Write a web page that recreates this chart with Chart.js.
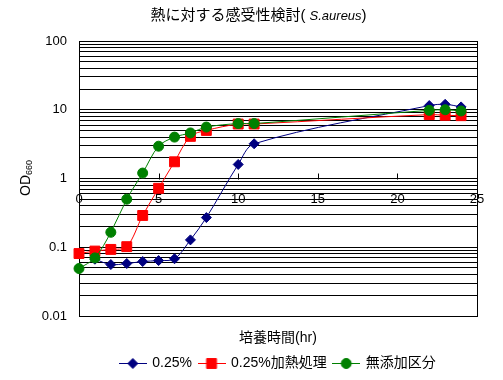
<!DOCTYPE html>
<html><head><meta charset="utf-8">
<script src="https://cdn.jsdelivr.net/npm/chart.js@4"></script>
<style>html,body{margin:0;padding:0;background:#fff}</style>
</head><body><canvas id="c" width="503" height="380"></canvas>
<script>
// ---- data ----
const hours = [0,1,2,3,4,5,6,7,8,10,11,22,23,24];
const od025 = [null,0.067,0.056,0.058,0.062,0.064,0.068,0.128,0.27,1.6,3.2,11.5,12,11];
const od025Heat = [0.081,0.088,0.093,0.102,0.29,0.72,1.75,4.1,5.0,6.2,6.2,8.5,8.3,8.2];
const odControl = [0.049,0.07,0.165,0.5,1.2,2.95,4.0,4.6,5.6,6.3,6.3,9.8,10,9.6];
const seriesNames = ['0.25%','0.25%加熱処理','無添加区分'];
const yDecades = [0.01,0.1,1,10,100];
const yDecadeLabels = ['0.01','0.1','1','10','100'];
const xTicks = [0,5,10,15,20,25];
const titleMain = '熱に対する感受性検討( ';
const titleItalic = 'S.aureus';
const titleEnd = ')';
const xTitle = '培養時間(hr)';
const yTitleMain = 'OD';
const yTitleSub = '660';

// ---- helpers ----
const FAM = "'Liberation Sans', 'Noto Sans CJK JP', sans-serif";
const colors = ['#000080','#FF0000','#008000'];
const styles = ['rectRot','rect','circle'];
const radii = [5,7,5];

const yGrid = [];
for (let i = 0; i < yDecades.length - 1; i++) for (let k = 1; k <= 9; k++) yGrid.push(yDecades[i] * k);
yGrid.push(yDecades[yDecades.length - 1]);

function pts(vals) { return hours.map((h, i) => ({x: h, y: vals[i]})); }

function icon(i) {
  const c = document.createElement('canvas'); c.width = 28; c.height = 14;
  const g = c.getContext('2d');
  g.strokeStyle = colors[i]; g.fillStyle = colors[i]; g.lineWidth = 1;
  g.beginPath(); g.moveTo(0, 7.5); g.lineTo(28, 7.5); g.stroke();
  Chart.helpers.drawPoint(g, {pointStyle: styles[i], radius: radii[i], rotation: 0, borderWidth: 1}, 14, 7.5);
  return c;
}

const decor = {
  id: 'decor',
  beforeDatasetsDraw(chart) {
    const {ctx, chartArea: a, scales} = chart;
    ctx.save();
    ctx.strokeStyle = '#000'; ctx.lineWidth = 1;
    ctx.strokeRect(Math.round(a.left) + 0.5, Math.round(a.top) + 0.5, Math.round(a.right - a.left), Math.round(a.bottom - a.top));
    const yAx = Math.round(scales.y.getPixelForValue(1)) + 0.5;
    ctx.beginPath();
    for (const t of scales.x.ticks) {
      const px = Math.round(scales.x.getPixelForValue(t.value)) + 0.5;
      ctx.moveTo(px, yAx); ctx.lineTo(px, yAx - 6);
    }
    ctx.stroke();
    ctx.restore();
  },
  afterDraw(chart) {
    const ctx = chart.ctx;
    ctx.save();
    ctx.fillStyle = '#000';
    ctx.textBaseline = 'middle';
    const f1 = "15px " + FAM, f2 = "italic 13px 'Liberation Sans', sans-serif";
    ctx.font = f1; const w1 = ctx.measureText(titleMain).width; const w3 = ctx.measureText(titleEnd).width;
    ctx.font = f2; const w2 = ctx.measureText(titleItalic).width;
    let x = 258.5 - (w1 + w2 + w3) / 2; const y = 16;
    ctx.textAlign = 'left';
    ctx.font = f1; ctx.fillText(titleMain, x, y); x += w1;
    ctx.font = f2; ctx.fillText(titleItalic, x, y); x += w2;
    ctx.font = f1; ctx.fillText(titleEnd, x, y);
    // y title
    ctx.translate(25, 178); ctx.rotate(-Math.PI / 2);
    ctx.textBaseline = 'alphabetic';
    const fa = "14px 'Liberation Sans', sans-serif", fb = "9px 'Liberation Sans', sans-serif";
    ctx.font = fa; const wa = ctx.measureText(yTitleMain).width;
    ctx.font = fb; const wb = ctx.measureText(yTitleSub).width;
    let sx = -(wa + wb) / 2;
    ctx.font = fa; ctx.fillText(yTitleMain, sx, 5); sx += wa;
    ctx.font = fb; ctx.fillText(yTitleSub, sx, 7);
    ctx.restore();
  }
};

Chart.defaults.color = '#000';
Chart.defaults.font.family = FAM;

const datasets = [od025, od025Heat, odControl].map((vals, i) => ({
  label: seriesNames[i],
  data: pts(vals),
  borderColor: colors[i], backgroundColor: colors[i],
  borderWidth: 1,
  pointStyle: styles[i], pointRadius: radii[i], pointHoverRadius: radii[i],
  pointBorderWidth: 1, pointBorderColor: colors[i], pointBackgroundColor: colors[i],
  tension: 0.33, clip: false, order: 3 - i
}));

const icons = [0,1,2].map(icon);

new Chart(document.getElementById('c'), {
  type: 'line',
  data: {datasets},
  options: {
    responsive: false, animation: false, events: [],
    layout: {padding: {top: 41, right: 26, bottom: 0, left: 0}},
    scales: {
      x: {
        type: 'linear', min: 0, max: 25, position: {y: 1},
        afterBuildTicks: s => { s.ticks = xTicks.map(v => ({value: v})); },
        ticks: {padding: 13, font: {size: 13, family: FAM}, color: '#000', autoSkip: false, maxRotation: 0},
        grid: {drawOnChartArea: false, drawTicks: false},
        border: {color: '#000', width: 1}
      },
      x2: {
        type: 'linear', axis: 'x', position: 'bottom', min: 0, max: 25,
        ticks: {display: false}, grid: {display: false, drawTicks: false}, border: {display: false},
        title: {display: true, text: xTitle, color: '#000', font: {size: 14, family: FAM}, padding: {top: 13.6, bottom: 2.6}}
      },
      y: {
        type: 'logarithmic', min: 0.01, max: 100, position: 'left',
        afterBuildTicks: s => { s.ticks = yGrid.map(v => ({value: v})); },
        afterFit: s => { s.width = 79; },
        ticks: {autoSkip: false, padding: 12, font: {size: 13, family: FAM}, color: '#000',
          callback: v => { const k = yDecades.indexOf(v); return k >= 0 ? yDecadeLabels[k] : ''; }},
        grid: {color: '#000', lineWidth: 1, drawTicks: false},
        border: {color: '#000', width: 1}
      }
    },
    plugins: {
      tooltip: {enabled: false},
      title: {display: false},
      legend: {
        position: 'bottom', fullSize: false,
        labels: {
          usePointStyle: true, pointStyleWidth: 25, padding: 7, color: '#000',
          font: {size: 14, family: FAM},
          generateLabels: chart => chart.data.datasets.map((ds, i) => ({
            text: ds.label, pointStyle: icons[i], fillStyle: colors[i], strokeStyle: colors[i],
            lineWidth: 0, hidden: false, datasetIndex: i, fontColor: '#000'
          }))
        }
      }
    }
  },
  plugins: [decor]
});
</script></body></html>
